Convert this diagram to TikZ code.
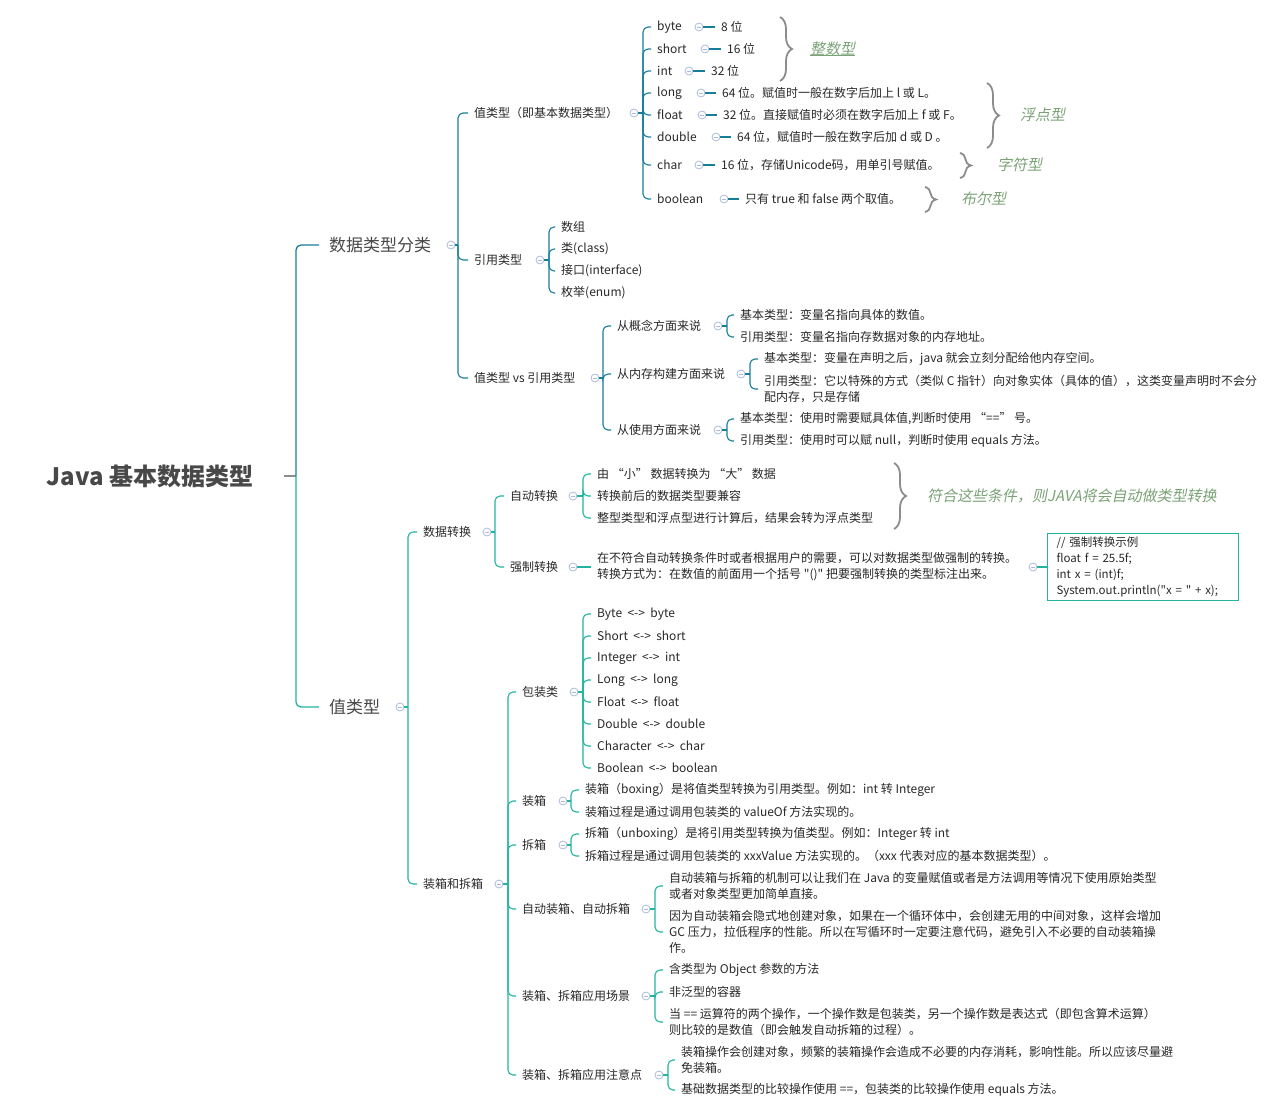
\documentclass[tikz,border=0pt]{standalone}
\usepackage{fontspec}
\setmainfont{Noto Sans CJK SC}
\newfontfamily\slfont[FakeSlant=0.2]{Noto Sans CJK SC}
\newfontfamily\plainfont{Noto Sans CJK SC}
\usetikzlibrary{decorations.pathreplacing,calc}
\definecolor{cUp}{RGB}{22,126,152}
\definecolor{cLo}{RGB}{34,180,160}
\definecolor{circc}{RGB}{170,186,222}
\definecolor{textc}{RGB}{40,40,40}
\definecolor{rootc}{RGB}{72,72,72}
\definecolor{labc}{RGB}{122,162,118}
\definecolor{brcc}{RGB}{140,140,140}
\begin{document}
\begin{tikzpicture}[x=1pt,y=-1pt,
  txt/.style={anchor=west,inner xsep=6pt,inner ysep=1pt,xshift=-6pt,text=textc,
    font=\fontsize{12}{16}\selectfont,align=left},
  lone/.style={anchor=west,inner xsep=10pt,inner ysep=1pt,xshift=-10pt,text=rootc,
    font=\fontsize{17}{20}\selectfont},
  rootn/.style={text=rootc,font=\fontsize{24}{28}\selectfont\bfseries},
  col/.style={circle,draw=circc,fill=white,minimum size=8pt,inner sep=0pt,line width=0.8pt,
    path picture={\draw[circc,line width=0.8pt] ([xshift=1.8pt]path picture bounding box.west) -- ([xshift=-1.8pt]path picture bounding box.east);}},
  rc/.style={rounded corners=5pt},
  up/.style={draw=cUp,line width=1.1pt},
  lo/.style={draw=cLo,line width=1.1pt},
  brc/.style={draw=brcc,line width=1.8pt,decorate,decoration={brace,amplitude=#1}},
  lab/.style={anchor=west,inner sep=0pt,text=labc,font=\fontsize{15}{18}\slfont},
  codebox/.style={anchor=west,draw=cLo,line width=1pt,inner xsep=9pt,inner ysep=3pt,
    text width=173pt,align=left,text=textc,font=\fontsize{11.5}{16}\plainfont}
]
\useasboundingbox (0,0) rectangle (1286,1116);

% ---------- root ----------
\node[rootn] (root) at (150,476) {Java 基本数据类型};
\coordinate (r0) at (284,476);
\coordinate (r1) at (296,476);
\draw[draw=brcc,line width=1.1pt] (r0) -- (r1);
\node[lone] (dtc) at (329,245) {数据类型分类};
\node[lone] (vt) at (329,707) {值类型};
\draw[up,line width=1.3pt,rc] (r1) |- (dtc.west);
\draw[lo,line width=1.3pt,rc] (r1) |- (vt.west);

% ---------- 数据类型分类 ----------
\node[col] (k-dtc) at (451,245) {};
\coordinate (j-dtc) at (458,245);
\draw[up] (k-dtc.east) -- (j-dtc);
\node[txt] (vb) at (474,113) {值类型（即基本数据类型）};
\node[txt] (rt) at (474,260) {引用类型};
\node[txt] (vs) at (474,378) {值类型 vs 引用类型};
\foreach \n in {vb,rt,vs} \draw[up,rc] (j-dtc) |- (\n.west);

% 值类型（即基本数据类型）
\node[col] (k-vb) at (634,113) {};
\coordinate (j-vb) at (643,113);
\draw[up] (k-vb.east) -- (j-vb);
\node[txt] (t-byte) at (657,27) {byte};
\node[txt] (t-short) at (657,49) {short};
\node[txt] (t-int) at (657,71) {int};
\node[txt] (t-long) at (657,93) {long};
\node[txt] (t-float) at (657,115) {float};
\node[txt] (t-double) at (657,137) {double};
\node[txt] (t-char) at (657,165) {char};
\node[txt] (t-bool) at (657,199) {boolean};
\foreach \n in {t-byte,t-short,t-int,t-long,t-float,t-double,t-char,t-bool}
  \draw[up,rc] (j-vb) |- (\n.west);

\node[col] (k-byte) at (699,27) {};
\node[txt] (v-byte) at (721,27) {8 位};
\node[col] (k-short) at (705,49) {};
\node[txt] (v-short) at (727,49) {16 位};
\node[col] (k-int) at (689,71) {};
\node[txt] (v-int) at (711,71) {32 位};
\node[col] (k-long) at (701,93) {};
\node[txt] (v-long) at (722,93) {64 位。赋值时一般在数字后加上 l 或 L。};
\node[col] (k-float) at (702,115) {};
\node[txt] (v-float) at (723,115) {32 位。直接赋值时必须在数字后加上 f 或 F。};
\node[col] (k-double) at (716,137) {};
\node[txt] (v-double) at (737,137) {64 位，赋值时一般在数字后加 d 或 D 。};
\node[col] (k-char) at (699,165) {};
\node[txt] (v-char) at (721,165) {16 位，存储Unicode码，用单引号赋值。};
\node[col] (k-bool) at (724,199) {};
\node[txt] (v-bool) at (745,199) {只有 true 和 false 两个取值。};
\foreach \n in {byte,short,int,long,float,double,char,bool}
  \draw[up] (k-\n.east) -- (v-\n.west);

% braces and labels
\draw[brc=12pt] (780,17) -- (780,81);
\node[lab] (lz) at (810,49) {整数型};
\draw[labc,line width=0.6pt] ([yshift=1pt]lz.south west) -- ([yshift=1pt]lz.south east);
\draw[brc=12pt] (987,83) -- (987,148);
\node[lab] (lf) at (1020,115) {浮点型};
\draw[brc=11pt] (960,153) -- (960,178);
\node[lab] (lc) at (997,165) {字符型};
\draw[brc=11pt] (925,187) -- (925,212);
\node[lab] (lb) at (961,199) {布尔型};

% 引用类型
\node[col] (k-rt) at (540,260) {};
\coordinate (j-rt) at (549,260);
\draw[up] (k-rt.east) -- (j-rt);
\node[txt] (r-a) at (561,227) {数组};
\node[txt] (r-b) at (561,249) {类(class)};
\node[txt] (r-c) at (561,271) {接口(interface)};
\node[txt] (r-d) at (561,293) {枚举(enum)};
\foreach \n in {r-a,r-b,r-c,r-d} \draw[up,rc] (j-rt) |- (\n.west);

% 值类型 vs 引用类型
\node[col] (k-vs) at (595,378) {};
\coordinate (j-vs) at (603,378);
\draw[up] (k-vs.east) -- (j-vs);
\node[txt] (s-gn) at (617,326) {从概念方面来说};
\node[txt] (s-nc) at (617,374) {从内存构建方面来说};
\node[txt] (s-sy) at (617,430) {从使用方面来说};
\foreach \n in {s-gn,s-nc,s-sy} \draw[up,rc] (j-vs) |- (\n.west);

\node[col] (k-gn) at (718,326) {};
\coordinate (j-gn) at (727,326);
\draw[up] (k-gn.east) -- (j-gn);
\node[txt] (gn-a) at (740,315) {基本类型：变量名指向具体的数值。};
\node[txt] (gn-b) at (740,337) {引用类型：变量名指向存数据对象的内存地址。};
\foreach \n in {gn-a,gn-b} \draw[up,rc] (j-gn) |- (\n.west);

\node[col] (k-nc) at (741,374) {};
\coordinate (j-nc) at (750,374);
\draw[up] (k-nc.east) -- (j-nc);
\node[txt] (nc-a) at (764,359) {基本类型：变量在声明之后，java 就会立刻分配给他内存空间。};
\node[txt] (nc-b) at (764,389) {引用类型：它以特殊的方式（类似 C 指针）向对象实体（具体的值），这类变量声明时不会分\\配内存，只是存储};
\foreach \n in {nc-a,nc-b} \draw[up,rc] (j-nc) |- (\n.west);

\node[col] (k-sy) at (718,430) {};
\coordinate (j-sy) at (727,430);
\draw[up] (k-sy.east) -- (j-sy);
\node[txt] (sy-a) at (740,419) {基本类型：使用时需要赋具体值,判断时使用 “==” 号。};
\node[txt] (sy-b) at (740,441) {引用类型：使用时可以赋 null，判断时使用 equals 方法。};
\foreach \n in {sy-a,sy-b} \draw[up,rc] (j-sy) |- (\n.west);

% ---------- 值类型 ----------
\node[col] (k-vt) at (400,707) {};
\coordinate (j-vt) at (408,707);
\draw[lo] (k-vt.east) -- (j-vt);
\node[txt] (zh) at (423,532) {数据转换};
\node[txt] (zx) at (423,884) {装箱和拆箱};
\foreach \n in {zh,zx} \draw[lo,rc] (j-vt) |- (\n.west);

% 数据转换
\node[col] (k-zh) at (487,532) {};
\coordinate (j-zh) at (495,532);
\draw[lo] (k-zh.east) -- (j-zh);
\node[txt] (zd) at (510,496) {自动转换};
\node[txt] (qz) at (510,567) {强制转换};
\foreach \n in {zd,qz} \draw[lo,rc] (j-zh) |- (\n.west);

\node[col] (k-zd) at (573,496) {};
\coordinate (j-zd) at (583,496);
\draw[lo] (k-zd.east) -- (j-zd);
\node[txt] (zd-a) at (597,474) {由 “小” 数据转换为 “大” 数据};
\node[txt] (zd-b) at (597,496) {转换前后的数据类型要兼容};
\node[txt] (zd-c) at (597,518) {整型类型和浮点型进行计算后，结果会转为浮点类型};
\foreach \n in {zd-a,zd-b,zd-c} \draw[lo,rc] (j-zd) |- (\n.west);
\draw[brc=12pt] (894,463) -- (894,529);
\node[lab] (lzd) at (927,496) {符合这些条件，则JAVA将会自动做类型转换};

\node[col] (k-qz) at (573,567) {};
\node[txt] (qz-a) at (597,567) {在不符合自动转换条件时或者根据用户的需要，可以对数据类型做强制的转换。\\转换方式为：在数值的前面用一个括号 {\plainfont "()"} 把要强制转换的类型标注出来。};
\draw[lo] (k-qz.east) -- (qz-a.west);
\node[col] (k-qa) at (1033,567) {};
\node[codebox] (code) at (1047,567) {// 强制转换示例\\float f = 25.5f;\\int x = (int)f;\\System.out.println("x = " + x);};
\draw[lo] (k-qa.east) -- (code.west);

% 装箱和拆箱
\node[col] (k-zx) at (499,884) {};
\coordinate (j-zx) at (508,884);
\draw[lo] (k-zx.east) -- (j-zx);
\node[txt] (bz) at (522,692) {包装类};
\node[txt] (zxa) at (522,801) {装箱};
\node[txt] (cxa) at (522,845) {拆箱};
\node[txt] (zdzx) at (522,909) {自动装箱、自动拆箱};
\node[txt] (cj) at (522,996) {装箱、拆箱应用场景};
\node[txt] (zy) at (522,1075) {装箱、拆箱应用注意点};
\foreach \n in {bz,zxa,cxa,zdzx,cj,zy} \draw[lo,rc] (j-zx) |- (\n.west);

\node[col] (k-bz) at (574,692) {};
\coordinate (j-bz) at (583,692);
\draw[lo] (k-bz.east) -- (j-bz);
\foreach \t [count=\i from 0] in {Byte\ \ <->\ \ byte,Short\ \ <->\ \ short,Integer\ \ <->\ \ int,Long\ \ <->\ \ long,Float\ \ <->\ \ float,Double\ \ <->\ \ double,Character\ \ <->\ \ char,Boolean\ \ <->\ \ boolean}{
  \node[txt] (bz-\i) at (597,614+22*\i) {\t};
  \draw[lo,rc] (j-bz) |- (bz-\i.west);
}

\node[col] (k-zxa) at (563,801) {};
\coordinate (j-zxa) at (571,801);
\draw[lo] (k-zxa.east) -- (j-zxa);
\node[txt] (zxa-a) at (585,790) {装箱（boxing）是将值类型转换为引用类型。例如：int 转 Integer};
\node[txt] (zxa-b) at (585,812) {装箱过程是通过调用包装类的 valueOf 方法实现的。};
\foreach \n in {zxa-a,zxa-b} \draw[lo,rc] (j-zxa) |- (\n.west);

\node[col] (k-cxa) at (563,845) {};
\coordinate (j-cxa) at (571,845);
\draw[lo] (k-cxa.east) -- (j-cxa);
\node[txt] (cxa-a) at (585,834) {拆箱（unboxing）是将引用类型转换为值类型。例如：Integer 转 int};
\node[txt] (cxa-b) at (585,856) {拆箱过程是通过调用包装类的 xxxValue 方法实现的。（xxx 代表对应的基本数据类型）。};
\foreach \n in {cxa-a,cxa-b} \draw[lo,rc] (j-cxa) |- (\n.west);

\node[col] (k-zdzx) at (646,909) {};
\coordinate (j-zdzx) at (655,909);
\draw[lo] (k-zdzx.east) -- (j-zdzx);
\node[txt] (zdzx-a) at (669,886) {自动装箱与拆箱的机制可以让我们在 Java 的变量赋值或者是方法调用等情况下使用原始类型\\或者对象类型更加简单直接。};
\node[txt] (zdzx-b) at (669,932) {因为自动装箱会隐式地创建对象，如果在一个循环体中，会创建无用的中间对象，这样会增加\\GC 压力，拉低程序的性能。所以在写循环时一定要注意代码，避免引入不必要的自动装箱操\\作。};
\foreach \n in {zdzx-a,zdzx-b} \draw[lo,rc] (j-zdzx) |- (\n.west);

\node[col] (k-cj) at (646,996) {};
\coordinate (j-cj) at (655,996);
\draw[lo] (k-cj.east) -- (j-cj);
\node[txt] (cj-a) at (669,970) {含类型为 Object 参数的方法};
\node[txt] (cj-b) at (669,992) {非泛型的容器};
\node[txt] (cj-c) at (669,1022) {当 == 运算符的两个操作，一个操作数是包装类，另一个操作数是表达式（即包含算术运算）\\则比较的是数值（即会触发自动拆箱的过程）。};
\foreach \n in {cj-a,cj-b,cj-c} \draw[lo,rc] (j-cj) |- (\n.west);

\node[col] (k-zy) at (659,1075) {};
\coordinate (j-zy) at (668,1075);
\draw[lo] (k-zy.east) -- (j-zy);
\node[txt] (zy-a) at (681,1060) {装箱操作会创建对象，频繁的装箱操作会造成不必要的内存消耗，影响性能。所以应该尽量避\\免装箱。};
\node[txt] (zy-b) at (681,1090) {基础数据类型的比较操作使用 ==，包装类的比较操作使用 equals 方法。};
\foreach \n in {zy-a,zy-b} \draw[lo,rc] (j-zy) |- (\n.west);
\end{tikzpicture}
\end{document}
